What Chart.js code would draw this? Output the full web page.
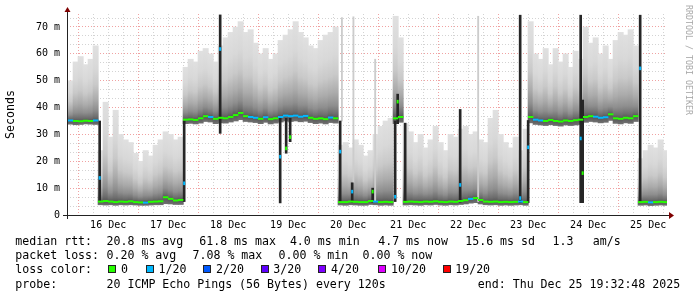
<!DOCTYPE html>
<html><head><meta charset="utf-8">
<script src="https://cdn.jsdelivr.net/npm/chart.js@4.4.1/dist/chart.umd.min.js"></script>
<style>
html,body{margin:0;padding:0;background:#fff;overflow:hidden}
#wrap{position:relative;width:697px;height:297px;background:#fff}
#c{position:absolute;left:0;top:0}
.t{position:absolute;font-family:'DejaVu Sans Mono',monospace;font-size:11.6px;line-height:14px;white-space:pre;color:#000}
.sq{position:absolute;width:8px;height:8px;box-sizing:border-box;border:1px solid #222}
#wm{position:absolute;left:0;top:0;transform-origin:0 0;transform:translate(693px,5px) rotate(90deg);font-family:'DejaVu Sans Mono',monospace;font-size:8.3px;line-height:9px;white-space:pre;color:#a8a8a8}
</style></head><body>
<div id="wrap">
<canvas id="c" width="697" height="297"></canvas>
<div id="wm">RRDTOOL / TOBI OETIKER</div>
<div class="t" style="left:15.3px;top:234px">median rtt:</div>
<div class="t" style="left:106.5px;top:234px">20.8 ms avg</div>
<div class="t" style="left:199.2px;top:234px">61.8 ms max</div>
<div class="t" style="left:289.9px;top:234px">4.0 ms min</div>
<div class="t" style="left:378.2px;top:234px">4.7 ms now</div>
<div class="t" style="left:465.2px;top:234px">15.6 ms sd</div>
<div class="t" style="left:552.5px;top:234px">1.3</div>
<div class="t" style="left:592.8px;top:234px">am/s</div>
<div class="t" style="left:15.3px;top:248px">packet loss:</div>
<div class="t" style="left:106.5px;top:248px">0.20 % avg</div>
<div class="t" style="left:192.5px;top:248px">7.08 % max</div>
<div class="t" style="left:278.5px;top:248px">0.00 % min</div>
<div class="t" style="left:362.5px;top:248px">0.00 % now</div>
<div class="t" style="left:15.3px;top:262.4px">loss color:</div>
<div id="lossLegend"></div>
<div class="t" style="left:15.3px;top:276.7px">probe:</div>
<div class="t" style="left:106.5px;top:276.7px">20 ICMP Echo Pings (56 Bytes) every 120s</div>
<div class="t" style="left:477.8px;top:276.7px">end: Thu Dec 25 19:32:48 2025</div>
</div>
<script>
// ---- data (hours are counted from 16 Dec 00:00) ----
const dayLabels = ['16 Dec','17 Dec','18 Dec','19 Dec','20 Dec','21 Dec','22 Dec','23 Dec','24 Dec','25 Dec'];
const yTickLabels = ['0','10 m','20 m','30 m','40 m','50 m','60 m','70 m'];
const lossLabels = ['0','1/20','2/20','3/20','4/20','10/20','19/20'];
const lossColors = ['#26ff00','#00b8ff','#0059ff','#5e00ff','#7e00ff','#dd00ff','#ff0000'];

// 2-hour bins, first bin centred on 15 Dec 21:00
const medianRtt = [
 35.2,35.0,34.9,35.1,35.0,35.2,
 5.0,5.2,5.0,4.8,5.0,4.9,5.1,4.8,4.7,4.6,4.9,5.0,5.1,6.6,6.0,5.4,5.6,
 35.5,35.6,35.4,36.0,36.8,36.5,35.8,36.2,36.0,36.5,37.2,38.0,36.8,36.5,36.2,35.8,36.4,35.7,36.0,36.5,37.0,36.8,37.0,36.6,36.9,36.2,35.8,36.0,35.7,36.3,36.0,
 4.8,4.8,5.0,4.9,4.8,4.8,5.2,5.0,4.8,4.9,4.8,
 36.0,36.5,
 4.9,5.0,4.9,4.8,5.0,4.9,5.1,4.9,4.8,5.0,4.9,5.2,5.5,6.0,6.3,5.6,5.0,4.9,5.0,4.8,4.9,4.8,4.9,5.0,4.8,
 36.5,35.5,35.2,35.0,35.4,35.0,34.8,35.2,35.0,35.3,35.5,
 36.5,36.8,36.6,36.2,36.4,37.5,36.0,35.8,36.2,36.0,36.8,
 4.8,4.9,4.7,4.8,4.9,4.8
];
const maxRtt = [
 50,57,59,56,58,63,
 24,42,29,39,30,28,27,23,20,24,22,26,28,31,30,28,29,
 55,58,57,61,62,60,57,63,66,68,70,72,68,69,64,60,62,58,60,65,67,69,72,68,66,63,62,65,67,68,70,
 26,27,25,28,26,22,24,30,33,35,36,
 74,66,
 34,31,27,30,25,28,33,27,24,30,29,32,33,30,31,28,27,36,39,30,27,25,29,24,32,
 72,60,58,62,56,62,57,60,55,61,58,
 70,64,66,60,63,58,65,68,67,69,63,
 21,24,26,25,28,24
];
const minRtt = [
 33.8,33.6,33.7,33.9,33.8,33.7,
 3.8,3.7,3.8,3.6,3.8,3.7,3.8,3.7,3.6,3.6,3.7,3.8,3.8,4.2,4.1,3.9,3.9,
 34.0,34.1,33.9,34.2,34.8,34.6,34.0,34.3,34.2,34.6,35.0,35.5,34.8,34.6,34.4,34.0,34.5,33.9,34.2,34.6,35.0,34.8,35.0,34.7,34.9,34.4,34.0,34.2,33.9,34.4,34.2,
 3.7,3.6,3.8,3.7,3.6,3.6,3.9,3.8,3.6,3.7,3.6,
 34.0,34.5,
 3.7,3.8,3.7,3.6,3.8,3.7,3.9,3.7,3.6,3.8,3.7,3.9,4.1,4.4,4.6,4.1,3.8,3.7,3.8,3.6,3.7,3.6,3.7,3.8,3.6,
 34.3,33.7,33.5,33.3,33.6,33.3,33.1,33.5,33.3,33.5,33.7,
 34.5,34.8,34.6,34.3,34.5,35.2,34.1,33.9,34.3,34.1,34.8,
 3.6,3.7,3.5,3.6,3.7,3.6
];
const lossBins = [
 1,0,0,0,0,1,
 0,0,0,0,0,0,0,0,0,1,0,0,0,0,0,0,0,
 0,0,0,0,0,1,0,0,0,0,0,0,0,1,1,0,1,0,0,1,1,1,1,1,1,0,0,0,0,1,0,
 0,0,0,0,0,0,0,1,0,0,0,
 0,0,
 0,0,0,0,0,0,0,0,0,0,0,0,0,1,0,0,0,0,0,0,0,0,0,1,0,
 0,1,1,0,0,0,0,0,0,0,0,
 0,0,1,1,1,0,0,0,0,0,0,
 0,0,1,0,0,0
];
// level shifts / bursts (dark streaks) with their median and loss
const spikeHours  = [8.6,42.4,56.8,80.8,83.2,84.8,104.8,109.6,117.8,126.8,127.8,130.8,152.8,176.8,180.0,201.0,201.8,224.8];
const spikeLow    = [5.0,5.0,30.4,4.5,23.0,27.3,5.0,4.8,4.8,5.0,34.0,5.0,4.8,4.6,4.6,4.6,4.6,4.6];
const spikeHigh   = [35.0,35.0,74.5,36.0,36.0,36.0,35.0,12.0,10.0,35.0,45.0,34.2,39.3,74.4,35.2,74.4,42.8,74.4];
const spikeMedian = [13.8,11.8,61.8,21.7,24.8,29.0,23.6,8.7,8.7,6.8,42.2,null,11.2,6.3,25.2,28.5,15.6,54.6];
const spikeLoss   = [1,1,1,1,0,0,1,1,0,1,0,0,1,1,1,1,0,1];
// single faint outlier streaks
const streakHours = [105.5,110.1,118.8,160.0];
const streakLow   = [35,12,5,5];
const streakHigh  = [73.5,73.8,58,74];

// ---- layout constants ----
const FIRST_BIN = -3, BIN = 2;
const X_MIN = -4.4667, X_MAX = 235.5333, Y_MAX = 74.84;
const binHours = medianRtt.map((_, i) => FIRST_BIN + BIN * i);

const FONT = "'DejaVu Sans Mono', monospace";
const GRID_MINOR = 'rgba(150,150,150,0.42)';
const GRID_MAJOR = 'rgba(222,48,48,0.45)';

const lossColor = k => lossColors[k];

// loss legend
(function(){
  const sqX = [108,146,203,260.5,318,378,442.5];
  const lbX = [121,158.5,216,273.2,331,391,455.2];
  const host = document.getElementById('lossLegend');
  lossLabels.forEach((lab, i) => {
    const s = document.createElement('div');
    s.className = 'sq'; s.style.left = sqX[i] + 'px'; s.style.top = '265px'; s.style.background = lossColors[i];
    host.appendChild(s);
    const t = document.createElement('div');
    t.className = 't'; t.style.left = lbX[i] + 'px'; t.style.top = '262.4px'; t.textContent = lab;
    host.appendChild(t);
  });
})();

function smokeFill(ctx) {
  const chart = ctx.chart;
  if (ctx.type !== 'data' || !chart.chartArea) return '#d6d6d6';
  const ys = chart.scales.y;
  const i = ctx.dataIndex;
  const lo = minRtt[i], hi = maxRtt[i], med = medianRtt[i];
  const g = chart.ctx.createLinearGradient(0, ys.getPixelForValue(lo), 0, ys.getPixelForValue(hi));
  const tm = Math.min(0.95, Math.max(0, (med - lo) / (hi - lo)));
  const f = t => tm + (1 - tm) * t;
  g.addColorStop(0, '#707070');
  g.addColorStop(tm, '#555555');
  g.addColorStop(f(0.05), '#6e6e6e');
  g.addColorStop(f(0.14), '#8e8e8e');
  g.addColorStop(f(0.28), '#ababab');
  g.addColorStop(f(0.48), '#c9c9c9');
  g.addColorStop(f(0.7), '#d8d8d8');
  g.addColorStop(1, '#e0e0e0');
  return g;
}

const isMajorY = v => Math.abs(v / 10 - Math.round(v / 10)) < 1e-6;

const axesPlugin = {
  id: 'rrdAxes',
  afterDraw(chart) {
    const c = chart.ctx, a = chart.chartArea;
    c.save();
    c.strokeStyle = '#222'; c.lineWidth = 1;
    c.beginPath();
    c.moveTo(a.left - 4, a.bottom + 0.5); c.lineTo(a.right + 4, a.bottom + 0.5);
    c.moveTo(a.left + 0.5, a.bottom + 4); c.lineTo(a.left + 0.5, a.top - 4);
    c.stroke();
    c.fillStyle = '#7f0000';
    c.beginPath(); c.moveTo(a.right + 2, a.bottom - 3); c.lineTo(a.right + 2, a.bottom + 4); c.lineTo(a.right + 7, a.bottom + 0.5); c.closePath(); c.fill();
    c.beginPath(); c.moveTo(a.left - 2.5, a.top - 2); c.lineTo(a.left + 3.5, a.top - 2); c.lineTo(a.left + 0.5, a.top - 7); c.closePath(); c.fill();
    c.restore();
  }
};

new Chart(document.getElementById('c'), {
  type: 'bar',
  data: {
    datasets: [
      { type: 'line', label: 'median', order: 0,
        data: binHours.map((h, i) => ({ x: h, y: medianRtt[i] })),
        showLine: false, pointStyle: 'line', pointRadius: 2.7, pointHoverRadius: 2.7, pointBorderWidth: 2,
        pointBorderColor: ctx => lossColor(lossBins[ctx.dataIndex]) },
      { type: 'line', label: 'burst median', order: 1,
        data: spikeHours.map((h, i) => ({ x: h, y: spikeMedian[i], l: spikeLoss[i] })).filter(p => p.y !== null),
        showLine: false, pointStyle: 'line', rotation: 90, pointRadius: 1.8, pointBorderWidth: 2,
        pointBorderColor: ctx => lossColor(ctx.raw ? ctx.raw.l : 0) },
      { type: 'bar', label: 'bursts', order: 2, grouped: false,
        data: spikeHours.map((h, i) => ({ x: h, y: [spikeLow[i], spikeHigh[i]] })),
        backgroundColor: '#262626', barThickness: 2 },
      { type: 'bar', label: 'outliers', order: 3, grouped: false,
        data: streakHours.map((h, i) => ({ x: h, y: [streakLow[i], streakHigh[i]] })),
        backgroundColor: '#cccccc', barThickness: 1.2 },
      { type: 'bar', label: 'smoke', order: 4, grouped: false,
        data: binHours.map((h, i) => ({ x: h, y: [minRtt[i], maxRtt[i]] })),
        backgroundColor: smokeFill, barThickness: 5.3 }
    ]
  },
  options: {
    responsive: false, animation: false, devicePixelRatio: 1,
    layout: { padding: { left: 0, right: 30, top: 14, bottom: 62 } },
    plugins: { legend: { display: false }, tooltip: { enabled: false } },
    scales: {
      x: {
        type: 'linear', min: X_MIN, max: X_MAX, offset: false, z: 1,
        afterFit: s => { s.height = 20; },
        afterBuildTicks: s => { const t = []; for (let h = 0; h <= 234; h += 6) t.push({ value: h }); s.ticks = t; },
        grid: { offset: false, drawTicks: false, lineWidth: 1,
          color: ctx => (ctx.tick && ctx.tick.value % 24 === 0) ? GRID_MAJOR : GRID_MINOR },
        border: { display: false, dash: [1, 2] },
        ticks: { autoSkip: false, maxRotation: 0, minRotation: 0, padding: 4, color: '#000',
          font: { family: FONT, size: 10 },
          callback: v => { const k = (v - 12) / 24; return (Number.isInteger(k) && k >= 0 && k < dayLabels.length) ? dayLabels[k] : ''; } }
      },
      y: {
        min: 0, max: Y_MAX, z: 1,
        afterFit: s => { s.width = 67; },
        afterBuildTicks: s => { const t = []; for (let k = 0; k <= 22; k++) t.push({ value: k * 10 / 3 }); s.ticks = t; },
        grid: { drawTicks: false, lineWidth: 1,
          color: ctx => { const v = ctx.tick ? ctx.tick.value : 0; if (v < 0.01) return 'rgba(0,0,0,0)'; return isMajorY(v) ? GRID_MAJOR : GRID_MINOR; } },
        border: { display: false, dash: [1, 2] },
        title: { display: true, text: 'Seconds', color: '#000', font: { family: FONT, size: 11.6 }, padding: { top: 4, bottom: 0 } },
        ticks: { autoSkip: false, padding: 7, color: '#000', font: { family: FONT, size: 10 },
          callback: v => isMajorY(v) ? yTickLabels[Math.round(v / 10)] : '' }
      }
    }
  },
  plugins: [axesPlugin]
});
</script>
</body></html>
